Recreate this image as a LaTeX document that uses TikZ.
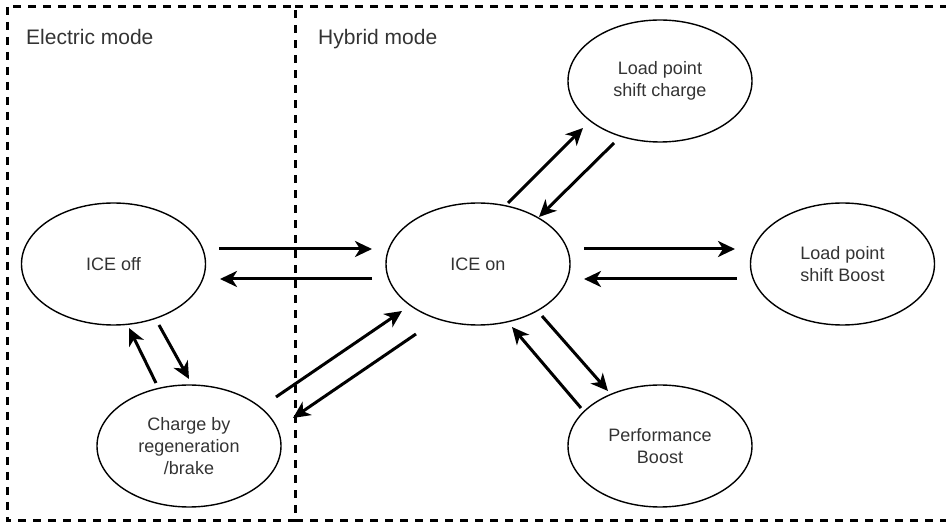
\documentclass[tikz,border=0pt]{standalone}
\usepackage{fontspec}
\setmainfont{Liberation Sans}
\usetikzlibrary{shapes.geometric,arrows.meta}
\tikzset{
  state/.style={ellipse, draw=black, line width=1.4pt, minimum width=184pt, minimum height=122pt,
    inner sep=0pt, align=center, text=black!80, font=\fontsize{18}{21.6}\selectfont},
  flow/.style={line width=3pt, -{Stealth[length=17pt,width=16pt,inset=5pt]}},
  modebox/.style={line width=3pt, dash pattern=on 8pt off 7pt},
  modelabel/.style={anchor=base west, inner sep=0pt, text=black!80, font=\fontsize{21}{25}\selectfont}
}
\begin{document}
\begin{tikzpicture}[x=1pt,y=-1pt]
\useasboundingbox (0,0) rectangle (946,526);
% mode boxes
\draw[modebox] (7,7) rectangle (295,521);
\draw[modebox] (295,7) -- (960,7);
\draw[modebox] (295,521) -- (960,521);
\node[modelabel] (elabel) at (26,45) {Electric mode};
\node[modelabel] (hlabel) at (318,45) {Hybrid mode};
% states
\node[state] (iceoff) at (113.5,264) {ICE off};
\node[state] (iceon) at (478,264) {ICE on};
\node[state] (lpc) at (660,81) {Load point\\shift charge};
\node[state] (lpb) at (842.5,264) {Load point\\shift Boost};
\node[state] (perf) at (660,446) {Performance\\Boost};
\node[state] (chg) at (189,446) {Charge by\\regeneration\\/brake};
% transitions
\draw[flow] ([shift={(105.5,-15)}]iceoff.center) -- ([shift={(-106,-15)}]iceon.center);
\draw[flow] ([shift={(-106,15)}]iceon.center) -- ([shift={(106.5,15)}]iceoff.center);
\draw[flow] ([shift={(106,-15)}]iceon.center) -- ([shift={(-107.5,-15)}]lpb.center);
\draw[flow] ([shift={(-105.5,15)}]lpb.center) -- ([shift={(106,15)}]iceon.center);
\draw[flow] ([shift={(30,-61)}]iceon.center) -- ([shift={(-77,47)}]lpc.center);
\draw[flow] ([shift={(-46,62)}]lpc.center) -- ([shift={(61,-47)}]iceon.center);
\draw[flow] ([shift={(64,52)}]iceon.center) -- ([shift={(-52,-55)}]perf.center);
\draw[flow] ([shift={(-79,-38)}]perf.center) -- ([shift={(34,63)}]iceon.center);
\draw[flow] ([shift={(-33,-63)}]chg.center) -- ([shift={(15.5,64)}]iceoff.center);
\draw[flow] ([shift={(45.5,61)}]iceoff.center) -- ([shift={(0,-67)}]chg.center);
\draw[flow] ([shift={(87,-49)}]chg.center) -- ([shift={(-76,47)}]iceon.center);
\draw[flow] ([shift={(-62,70)}]iceon.center) -- ([shift={(104,-28)}]chg.center);
\end{tikzpicture}
\end{document}
